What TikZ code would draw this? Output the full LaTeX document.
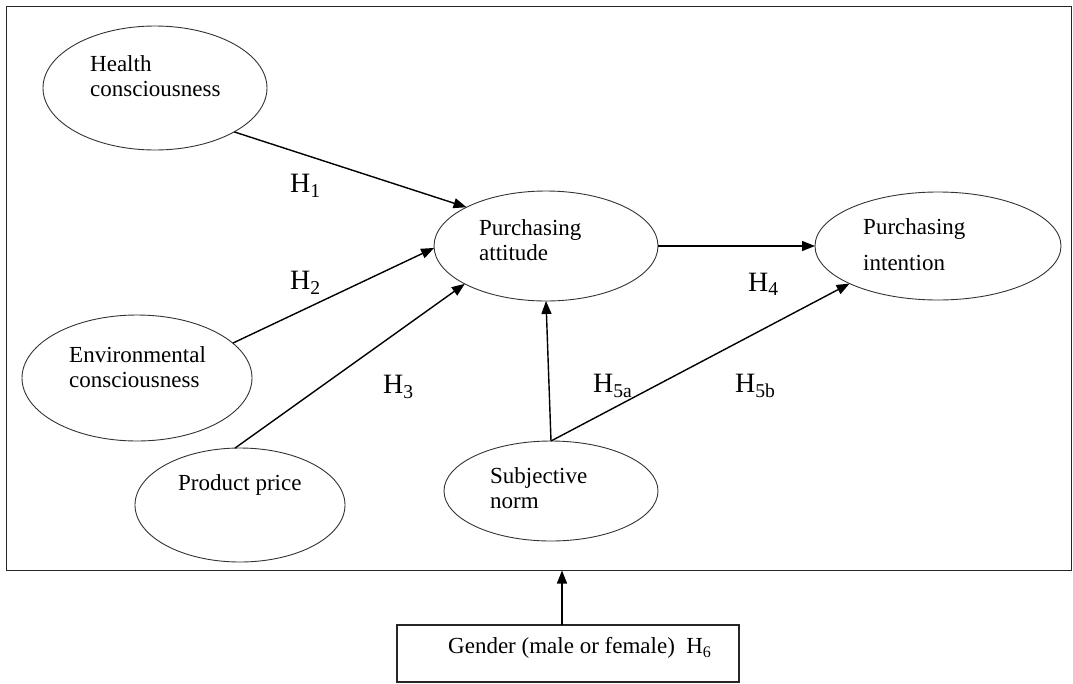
\documentclass[tikz,border=0pt]{standalone}
\usepackage{fontspec}
\setmainfont{Liberation Serif}
\usetikzlibrary{shapes.geometric,arrows.meta}
\begin{document}
\begin{tikzpicture}[x=1pt,y=-1pt,
  oval/.style={ellipse, draw=black!80, line width=0.9pt, inner sep=0pt, outer sep=0pt},
  lbl/.style={anchor=west, inner sep=0pt, align=left, font=\fontsize{23}{25}\selectfont},
  hyp/.style={anchor=west, inner sep=0pt, font=\fontsize{28}{30}\selectfont},
  arr/.style={line width=1.4pt, -{Triangle[length=13pt,width=10pt]}},
  boxframe/.style={draw=black!85, line width=1.2pt, inner sep=0pt, outer sep=0pt, anchor=north west}
]
\useasboundingbox (0,0) rectangle (1073,683);
\node[boxframe, minimum width=1065pt, minimum height=564pt] (frame) at (6.5,6.5) {};

% ellipses
\node[oval, minimum width=224pt, minimum height=124pt] (hc) at (155,88) {};
\node[oval, minimum width=224pt, minimum height=110pt] (pa) at (546,246) {};
\node[oval, minimum width=246pt, minimum height=108pt] (pi) at (938,246) {};
\node[oval, minimum width=230pt, minimum height=126pt] (ec) at (137,378) {};
\node[oval, minimum width=210pt, minimum height=114pt] (pp) at (240,505) {};
\node[oval, minimum width=214pt, minimum height=100pt] (sn) at (551,491) {};

% texts
\node[lbl] (thc) at (90,76.5) {Health\\consciousness};
\node[lbl] (tpa) at (479,240) {Purchasing\\attitude};
\node[lbl, font=\fontsize{23}{36}\selectfont] (tpi) at (863,245) {Purchasing\\intention};
\node[lbl] (tec) at (69,367) {Environmental\\consciousness};
\node[lbl] (tpp) at (178,485) {Product price};
\node[lbl] (tsn) at (490,488) {Subjective\\norm};

% gender box
\node[boxframe, minimum width=342pt, minimum height=57pt] (g) at (397,625) {};
\node[lbl] (tg) at (448,648) {Gender (male or female)~~H\textsubscript{6}};
\coordinate (gtop) at (562,625);

% hypothesis labels
\node[hyp] (h1) at (290,186) {H\textsubscript{1}};
\node[hyp] (h2) at (290,283) {H\textsubscript{2}};
\node[hyp] (h3) at (383,387) {H\textsubscript{3}};
\node[hyp] (h4) at (748,284) {H\textsubscript{4}};
\node[hyp] (h5a) at (593,386) {H\textsubscript{5a}};
\node[hyp] (h5b) at (735,386) {H\textsubscript{5b}};

% connectors
\draw[arr] (hc.-29.4) -- (pa.154.3);
\draw[arr] (ec.20.8) -- (pa.181);
\draw[arr] (pp.95) -- (pa.205.7);
\draw[arr] (pa.0) -- (pi.180);
\draw[arr] (sn.90) -- (pa.270);
\draw[arr] (sn.90) -- (pi.203.9);
\draw[arr] (gtop) -- (gtop |- frame.south);
\end{tikzpicture}
\end{document}
